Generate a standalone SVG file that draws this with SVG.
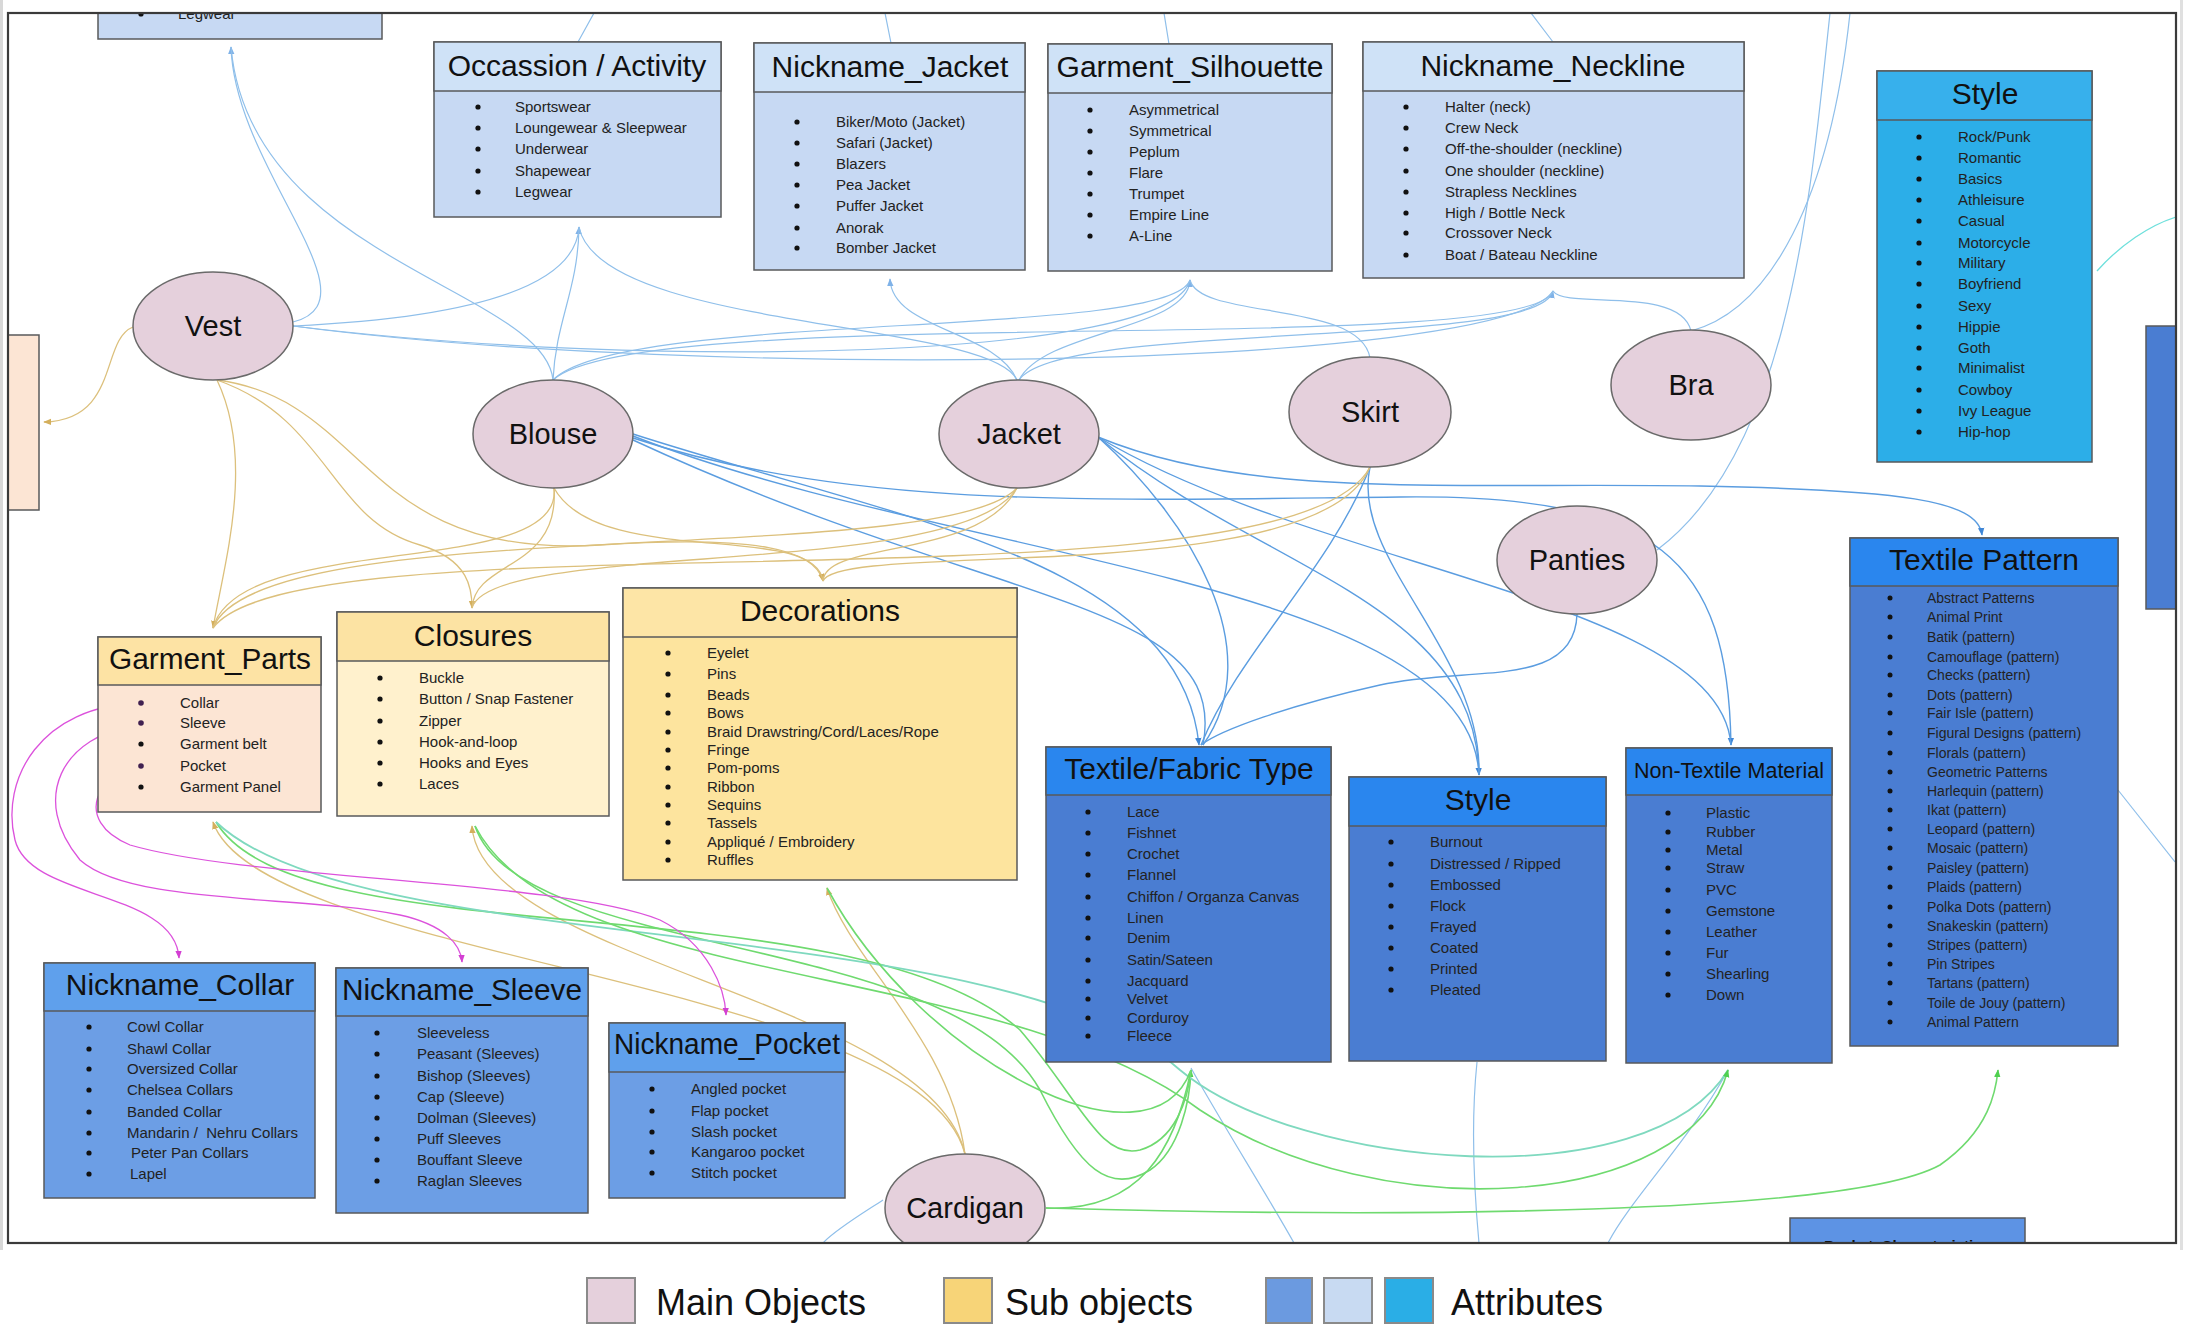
<svg xmlns="http://www.w3.org/2000/svg" width="2188" height="1336" viewBox="0 0 2188 1336">
<style>
.f{font-family:"Liberation Sans",Arial,Helvetica,sans-serif;fill:#111}
.ti{font-size:30px;text-anchor:middle}
.it{font-size:15px;fill:#222}
.it14{font-size:14px;fill:#222}
.lg{font-size:36px;fill:#111}
.eo{font-size:29px;text-anchor:middle}
.bx{stroke:#58595b;stroke-width:1.5}
.el{fill:#e5d0dc;stroke:#6a6a6a;stroke-width:1.5}
.bu{fill:#111}
.c{fill:none}
.cb{stroke:#8fbfea;stroke-width:1.2}
.cd{stroke:#5b9de0;stroke-width:1.4}
.ct{stroke:#dcc07c;stroke-width:1.3}
.cg{stroke:#6fda6f;stroke-width:1.6}
.cq{stroke:#7fd9bf;stroke-width:1.8}
.cp{stroke:#dc52dc;stroke-width:1.3}
.lb1{fill:#cfe2f7}.lb2{fill:#c7d9f3}
.cy1{fill:#37b0ec}.cy2{fill:#2caee8}
.db1{fill:#2a86ee}.db2{fill:#4a7dd2}
.nb1{fill:#5fa0ec}.nb2{fill:#6c9ee5}
</style>
<defs>
<clipPath id="frm"><rect x="9" y="14" width="2166" height="1228"/></clipPath>
<marker id="mb" viewBox="0 0 10 10" refX="9" refY="5" markerWidth="8" markerHeight="8" markerUnits="userSpaceOnUse" orient="auto"><path d="M0,1 L10,5 L0,9 z" fill="#7fb2e8"/></marker>
<marker id="md" viewBox="0 0 10 10" refX="9" refY="5" markerWidth="8" markerHeight="8" markerUnits="userSpaceOnUse" orient="auto"><path d="M0,1 L10,5 L0,9 z" fill="#3f86d6"/></marker>
<marker id="mt" viewBox="0 0 10 10" refX="9" refY="5" markerWidth="8" markerHeight="8" markerUnits="userSpaceOnUse" orient="auto"><path d="M0,1 L10,5 L0,9 z" fill="#d4af5c"/></marker>
<marker id="mg" viewBox="0 0 10 10" refX="9" refY="5" markerWidth="8" markerHeight="8" markerUnits="userSpaceOnUse" orient="auto"><path d="M0,1 L10,5 L0,9 z" fill="#4fd04f"/></marker>
<marker id="mp" viewBox="0 0 10 10" refX="9" refY="5" markerWidth="8" markerHeight="8" markerUnits="userSpaceOnUse" orient="auto"><path d="M0,1 L10,5 L0,9 z" fill="#d33fd3"/></marker>
</defs>
<rect x="0" y="0" width="2188" height="1336" fill="#fff"/>
<rect x="0" y="0" width="3" height="1250" fill="#d8d8d8"/>
<rect x="2180" y="0" width="3" height="1250" fill="#e0e0e0"/>

<g clip-path="url(#frm)">
<g id="connectors">
<path class="c cb" marker-end="url(#mb)" d="M293,322 C380,300 235,170 231,47"/>
<path class="c cb" d="M553,380 C545,290 250,260 231,47"/>
<path class="c cb" marker-end="url(#mb)" d="M293,326 C420,320 575,300 579,227"/>
<path class="c cb" d="M553,380 C556,320 578,290 579,227"/>
<path class="c cb" d="M1017,380 C990,320 600,330 579,227"/>
<path class="c cb" marker-end="url(#mb)" d="M1017,380 C995,330 892,330 890,279"/>
<path class="c cb" marker-end="url(#mb)" d="M1019,380 C1045,330 1188,330 1190,280"/>
<path class="c cb" marker-end="url(#mb)" d="M1019,380 C1060,320 1540,350 1553,291"/>
<path class="c cb" d="M553,380 C620,310 1170,340 1190,280"/>
<path class="c cb" d="M553,380 C640,300 1530,360 1553,291"/>
<path class="c cb" d="M293,326 C700,380 1500,370 1553,291"/>
<path class="c cb" d="M293,326 C650,370 1170,360 1190,280"/>
<path class="c cb" d="M1370,358 C1360,300 1200,320 1190,280"/>
<path class="c cb" d="M1691,331 C1680,285 1565,310 1553,291"/>
<path class="c cb" d="M1657,550 C1790,450 1810,200 1830,13"/>
<path class="c cb" d="M1691,331 C1770,310 1830,200 1850,13"/>
<path class="c cb" d="M594,13 L578,42 M885,13 L891,43 M1164,13 L1169,44 M1531,13 L1553,42"/>
<path class="c cb" d="M2118,790 L2175,862"/>
<path class="c" stroke="#6fe0dc" stroke-width="1.3" d="M2097,271 C2120,245 2150,225 2176,217"/>
<path class="c cb" d="M1191,1068 C1220,1120 1270,1200 1294,1243 M1477,1062 C1470,1130 1475,1200 1479,1243 M1728,1070 C1690,1140 1630,1200 1608,1243 M883,1200 C860,1215 835,1230 823,1243"/>
<path class="c cd" marker-end="url(#md)" d="M633,434 C900,520 1180,560 1199,745"/>
<path class="c cd" marker-end="url(#md)" d="M633,436 C950,560 1470,580 1479,775"/>
<path class="c cd" marker-end="url(#md)" d="M633,438 C850,510 1100,500 1400,497 C1660,494 1728,560 1731,745"/>
<path class="c cd" d="M633,440 C1000,610 1230,600 1203,745"/>
<path class="c cd" marker-end="url(#md)" d="M1098,437 C1250,500 1450,482 1700,486 C1900,490 1978,500 1982,535"/>
<path class="c cd" d="M1098,437 C1190,520 1270,650 1203,745"/>
<path class="c cd" d="M1098,437 C1260,570 1475,600 1479,775"/>
<path class="c cd" d="M1098,437 C1320,570 1720,600 1731,745"/>
<path class="c cd" d="M1370,467 C1330,570 1240,650 1201,745"/>
<path class="c cd" d="M1370,467 C1350,560 1482,650 1479,775"/>
<path class="c cd" d="M1577,614 C1575,690 1470,665 1380,685 C1290,705 1220,730 1201,745"/>
<path class="c ct" marker-end="url(#mt)" d="M217,380 C255,460 225,560 213,628"/>
<path class="c ct" marker-end="url(#mt)" d="M217,380 C330,420 330,520 420,545 C470,560 472,590 472,608"/>
<path class="c ct" marker-end="url(#mt)" d="M217,380 C370,400 360,560 600,545 C760,535 815,550 823,581"/>
<path class="c ct" d="M554,488 C565,580 240,530 213,628"/>
<path class="c ct" d="M554,488 C560,570 475,560 472,608"/>
<path class="c ct" d="M554,488 C600,570 815,520 823,581"/>
<path class="c ct" d="M1017,488 C940,570 260,510 213,628"/>
<path class="c ct" d="M1017,488 C960,580 490,540 472,608"/>
<path class="c ct" d="M1017,488 C980,560 825,540 823,581"/>
<path class="c ct" d="M1370,467 C1290,620 300,510 213,628"/>
<path class="c ct" d="M1370,467 C1320,590 840,540 823,581"/>
<path class="c ct" marker-end="url(#mt)" d="M133,327 C100,340 120,420 44,422"/>
<path class="c ct" marker-end="url(#mt)" d="M965,1154 C920,980 260,960 213,822"/>
<path class="c ct" marker-end="url(#mt)" d="M965,1154 C930,1000 480,960 472,826"/>
<path class="c ct" marker-end="url(#mt)" d="M965,1154 C950,1040 850,960 827,888"/>
<path class="c cg" marker-end="url(#mg)" d="M216,822 C300,960 850,880 1020,1030 C1080,1100 1100,1160 1140,1150 C1175,1140 1188,1100 1191,1070"/>
<path class="c cg" d="M475,826 C520,960 950,930 1040,1090 C1080,1170 1110,1195 1150,1170 C1180,1150 1190,1100 1191,1070"/>
<path class="c cq" d="M216,822 C360,960 1000,910 1180,1070 C1300,1170 1650,1200 1728,1070"/>
<path class="c cg" marker-end="url(#mg)" d="M475,826 C560,990 1000,960 1200,1110 C1380,1230 1690,1210 1728,1070"/>
<path class="c cg" marker-end="url(#mg)" d="M1046,1208 C1400,1218 1850,1215 1940,1165 C1990,1130 1996,1090 1998,1070"/>
<path class="c cg" d="M1046,1208 C1140,1212 1175,1150 1191,1070"/>
<path class="c cg" d="M827,888 C920,1060 1150,1180 1191,1070"/>
<path class="c cp" marker-end="url(#mp)" d="M141,703 C40,705 0,780 15,840 C30,900 175,890 179,958"/>
<path class="c cp" marker-end="url(#mp)" d="M141,724 C60,735 30,800 80,860 C130,905 300,895 400,915 C445,925 461,945 462,962"/>
<path class="c cp" marker-end="url(#mp)" d="M141,766 C100,770 70,820 130,845 C250,880 560,880 660,920 C710,945 725,990 726,1015"/>
</g>

<g id="node-legwear-partial">
<rect class="bx lb2" x="98" y="-10" width="284" height="49"/>
<circle class="bu" cx="141" cy="14" r="2.6"/>
<text class="f it" x="178" y="19">Legwear</text>
</g>

<g id="node-left-partial">
<rect class="bx" fill="#fce5d4" x="-5" y="335" width="44" height="175"/>
</g>

<g id="node-right-partial">
<rect class="bx db2" x="2146" y="326" width="40" height="283"/>
</g>

<g id="node-occasion">
<rect class="bx lb2" x="434" y="42" width="287" height="175"/>
<rect class="bx lb1" x="434" y="42" width="287" height="49"/>
<text class="f ti" x="577" y="76">Occassion / Activity</text>
<g class="bu"><circle cx="478" cy="107" r="2.6"/><circle cx="478" cy="128" r="2.6"/><circle cx="478" cy="149" r="2.6"/><circle cx="478" cy="171" r="2.6"/><circle cx="478" cy="192" r="2.6"/></g>
<text class="f it"><tspan x="515" y="112">Sportswear</tspan><tspan x="515" y="133">Loungewear &amp; Sleepwear</tspan><tspan x="515" y="154">Underwear</tspan><tspan x="515" y="176">Shapewear</tspan><tspan x="515" y="197">Legwear</tspan></text>
</g>

<g id="node-nickname-jacket">
<rect class="bx lb2" x="754" y="43" width="271" height="227"/>
<rect class="bx lb1" x="754" y="43" width="271" height="49"/>
<text class="f ti" x="890" y="77">Nickname_Jacket</text>
<g class="bu"><circle cx="797" cy="122" r="2.6"/><circle cx="797" cy="143" r="2.6"/><circle cx="797" cy="164" r="2.6"/><circle cx="797" cy="185" r="2.6"/><circle cx="797" cy="206" r="2.6"/><circle cx="797" cy="228" r="2.6"/><circle cx="797" cy="248" r="2.6"/></g>
<text class="f it"><tspan x="836" y="127">Biker/Moto (Jacket)</tspan><tspan x="836" y="148">Safari (Jacket)</tspan><tspan x="836" y="169">Blazers</tspan><tspan x="836" y="190">Pea Jacket</tspan><tspan x="836" y="211">Puffer Jacket</tspan><tspan x="836" y="233">Anorak</tspan><tspan x="836" y="253">Bomber Jacket</tspan></text>
</g>

<g id="node-silhouette">
<rect class="bx lb2" x="1048" y="44" width="284" height="227"/>
<rect class="bx lb1" x="1048" y="44" width="284" height="49"/>
<text class="f ti" x="1190" y="77">Garment_Silhouette</text>
<g class="bu"><circle cx="1090" cy="110" r="2.6"/><circle cx="1090" cy="131" r="2.6"/><circle cx="1090" cy="152" r="2.6"/><circle cx="1090" cy="173" r="2.6"/><circle cx="1090" cy="194" r="2.6"/><circle cx="1090" cy="215" r="2.6"/><circle cx="1090" cy="236" r="2.6"/></g>
<text class="f it"><tspan x="1129" y="115">Asymmetrical</tspan><tspan x="1129" y="136">Symmetrical</tspan><tspan x="1129" y="157">Peplum</tspan><tspan x="1129" y="178">Flare</tspan><tspan x="1129" y="199">Trumpet</tspan><tspan x="1129" y="220">Empire Line</tspan><tspan x="1129" y="241">A-Line</tspan></text>
</g>

<g id="node-neckline">
<rect class="bx lb2" x="1363" y="42" width="381" height="236"/>
<rect class="bx lb1" x="1363" y="42" width="381" height="49"/>
<text class="f ti" x="1553" y="76">Nickname_Neckline</text>
<g class="bu"><circle cx="1406" cy="107" r="2.6"/><circle cx="1406" cy="128" r="2.6"/><circle cx="1406" cy="149" r="2.6"/><circle cx="1406" cy="171" r="2.6"/><circle cx="1406" cy="192" r="2.6"/><circle cx="1406" cy="213" r="2.6"/><circle cx="1406" cy="233" r="2.6"/><circle cx="1406" cy="255" r="2.6"/></g>
<text class="f it"><tspan x="1445" y="112">Halter (neck)</tspan><tspan x="1445" y="133">Crew Neck</tspan><tspan x="1445" y="154">Off-the-shoulder (neckline)</tspan><tspan x="1445" y="176">One shoulder (neckline)</tspan><tspan x="1445" y="197">Strapless Necklines</tspan><tspan x="1445" y="218">High / Bottle Neck</tspan><tspan x="1445" y="238">Crossover Neck</tspan><tspan x="1445" y="260">Boat / Bateau Neckline</tspan></text>
</g>

<g id="node-style-top">
<rect class="bx cy2" x="1877" y="71" width="215" height="391"/>
<rect class="bx cy1" x="1877" y="71" width="215" height="49"/>
<text class="f ti" x="1985" y="104">Style</text>
<g class="bu"><circle cx="1919" cy="137" r="2.6"/><circle cx="1919" cy="158" r="2.6"/><circle cx="1919" cy="179" r="2.6"/><circle cx="1919" cy="200" r="2.6"/><circle cx="1919" cy="221" r="2.6"/><circle cx="1919" cy="243" r="2.6"/><circle cx="1919" cy="263" r="2.6"/><circle cx="1919" cy="284" r="2.6"/><circle cx="1919" cy="306" r="2.6"/><circle cx="1919" cy="327" r="2.6"/><circle cx="1919" cy="348" r="2.6"/><circle cx="1919" cy="368" r="2.6"/><circle cx="1919" cy="390" r="2.6"/><circle cx="1919" cy="411" r="2.6"/><circle cx="1919" cy="432" r="2.6"/></g>
<text class="f it"><tspan x="1958" y="142">Rock/Punk</tspan><tspan x="1958" y="163">Romantic</tspan><tspan x="1958" y="184">Basics</tspan><tspan x="1958" y="205">Athleisure</tspan><tspan x="1958" y="226">Casual</tspan><tspan x="1958" y="248">Motorcycle</tspan><tspan x="1958" y="268">Military</tspan><tspan x="1958" y="289">Boyfriend</tspan><tspan x="1958" y="311">Sexy</tspan><tspan x="1958" y="332">Hippie</tspan><tspan x="1958" y="353">Goth</tspan><tspan x="1958" y="373">Minimalist</tspan><tspan x="1958" y="395">Cowboy</tspan><tspan x="1958" y="416">Ivy League</tspan><tspan x="1958" y="437">Hip-hop</tspan></text>
</g>

<g id="node-garment-parts">
<rect class="bx" fill="#fce5d4" x="98" y="637" width="223" height="175"/>
<rect class="bx" fill="#fde3a4" x="98" y="637" width="223" height="48"/>
<text class="f ti" x="210" y="669" textLength="202" lengthAdjust="spacingAndGlyphs">Garment_Parts</text>
<g class="bu"><circle cx="141" cy="703" r="2.8" fill="#402050"/><circle cx="141" cy="723" r="2.8" fill="#402050"/><circle cx="141" cy="744" r="2.6"/><circle cx="141" cy="766" r="2.8" fill="#402050"/><circle cx="141" cy="787" r="2.6"/></g>
<text class="f it"><tspan x="180" y="708">Collar</tspan><tspan x="180" y="728">Sleeve</tspan><tspan x="180" y="749">Garment belt</tspan><tspan x="180" y="771">Pocket</tspan><tspan x="180" y="792">Garment Panel</tspan></text>
</g>

<g id="node-closures">
<rect class="bx" fill="#fff1cd" x="337" y="612" width="272" height="204"/>
<rect class="bx" fill="#fce3a3" x="337" y="612" width="272" height="49"/>
<text class="f ti" x="473" y="646">Closures</text>
<g class="bu"><circle cx="380" cy="678" r="2.6"/><circle cx="380" cy="699" r="2.6"/><circle cx="380" cy="721" r="2.6"/><circle cx="380" cy="742" r="2.6"/><circle cx="380" cy="763" r="2.6"/><circle cx="380" cy="784" r="2.6"/></g>
<text class="f it"><tspan x="419" y="683">Buckle</tspan><tspan x="419" y="704">Button / Snap Fastener</tspan><tspan x="419" y="726">Zipper</tspan><tspan x="419" y="747">Hook-and-loop</tspan><tspan x="419" y="768">Hooks and Eyes</tspan><tspan x="419" y="789">Laces</tspan></text>
</g>

<g id="node-decorations">
<rect class="bx" fill="#fde49e" x="623" y="588" width="394" height="292"/>
<rect class="bx" fill="#fde5a6" x="623" y="588" width="394" height="49"/>
<text class="f ti" x="820" y="621">Decorations</text>
<g class="bu"><circle cx="668" cy="653" r="2.6"/><circle cx="668" cy="674" r="2.6"/><circle cx="668" cy="695" r="2.6"/><circle cx="668" cy="713" r="2.6"/><circle cx="668" cy="732" r="2.6"/><circle cx="668" cy="750" r="2.6"/><circle cx="668" cy="768" r="2.6"/><circle cx="668" cy="787" r="2.6"/><circle cx="668" cy="805" r="2.6"/><circle cx="668" cy="823" r="2.6"/><circle cx="668" cy="842" r="2.6"/><circle cx="668" cy="860" r="2.6"/></g>
<text class="f it"><tspan x="707" y="658">Eyelet</tspan><tspan x="707" y="679">Pins</tspan><tspan x="707" y="700">Beads</tspan><tspan x="707" y="718">Bows</tspan><tspan x="707" y="737">Braid Drawstring/Cord/Laces/Rope</tspan><tspan x="707" y="755">Fringe</tspan><tspan x="707" y="773">Pom-poms</tspan><tspan x="707" y="792">Ribbon</tspan><tspan x="707" y="810">Sequins</tspan><tspan x="707" y="828">Tassels</tspan><tspan x="707" y="847">Appliqué / Embroidery</tspan><tspan x="707" y="865">Ruffles</tspan></text>
</g>

<g id="node-textile-fabric">
<rect class="bx db2" x="1046" y="747" width="285" height="315" stroke="#333"/>
<rect class="bx db1" x="1046" y="747" width="285" height="48" stroke="#333"/>
<text class="f ti" x="1189" y="779">Textile/Fabric Type</text>
<g class="bu"><circle cx="1088" cy="812" r="2.6"/><circle cx="1088" cy="833" r="2.6"/><circle cx="1088" cy="854" r="2.6"/><circle cx="1088" cy="875" r="2.6"/><circle cx="1088" cy="897" r="2.6"/><circle cx="1088" cy="918" r="2.6"/><circle cx="1088" cy="938" r="2.6"/><circle cx="1088" cy="960" r="2.6"/><circle cx="1088" cy="981" r="2.6"/><circle cx="1088" cy="999" r="2.6"/><circle cx="1088" cy="1018" r="2.6"/><circle cx="1088" cy="1036" r="2.6"/></g>
<text class="f it"><tspan x="1127" y="817">Lace</tspan><tspan x="1127" y="838">Fishnet</tspan><tspan x="1127" y="859">Crochet</tspan><tspan x="1127" y="880">Flannel</tspan><tspan x="1127" y="902">Chiffon / Organza Canvas</tspan><tspan x="1127" y="923">Linen</tspan><tspan x="1127" y="943">Denim</tspan><tspan x="1127" y="965">Satin/Sateen</tspan><tspan x="1127" y="986">Jacquard</tspan><tspan x="1127" y="1004">Velvet</tspan><tspan x="1127" y="1023">Corduroy</tspan><tspan x="1127" y="1041">Fleece</tspan></text>
</g>

<g id="node-style-mid">
<rect class="bx db2" x="1349" y="777" width="257" height="284" stroke="#333"/>
<rect class="bx db1" x="1349" y="777" width="257" height="49" stroke="#333"/>
<text class="f ti" x="1478" y="810">Style</text>
<g class="bu"><circle cx="1391" cy="842" r="2.6"/><circle cx="1391" cy="864" r="2.6"/><circle cx="1391" cy="885" r="2.6"/><circle cx="1391" cy="906" r="2.6"/><circle cx="1391" cy="927" r="2.6"/><circle cx="1391" cy="948" r="2.6"/><circle cx="1391" cy="969" r="2.6"/><circle cx="1391" cy="990" r="2.6"/></g>
<text class="f it"><tspan x="1430" y="847">Burnout</tspan><tspan x="1430" y="869">Distressed / Ripped</tspan><tspan x="1430" y="890">Embossed</tspan><tspan x="1430" y="911">Flock</tspan><tspan x="1430" y="932">Frayed</tspan><tspan x="1430" y="953">Coated</tspan><tspan x="1430" y="974">Printed</tspan><tspan x="1430" y="995">Pleated</tspan></text>
</g>

<g id="node-non-textile">
<rect class="bx db2" x="1626" y="748" width="206" height="315" stroke="#333"/>
<rect class="bx db1" x="1626" y="748" width="206" height="47" stroke="#333"/>
<text class="f" x="1729" y="778" font-size="21.5" text-anchor="middle">Non-Textile Material</text>
<g class="bu"><circle cx="1668" cy="813" r="2.6"/><circle cx="1668" cy="832" r="2.6"/><circle cx="1668" cy="850" r="2.6"/><circle cx="1668" cy="868" r="2.6"/><circle cx="1668" cy="890" r="2.6"/><circle cx="1668" cy="911" r="2.6"/><circle cx="1668" cy="932" r="2.6"/><circle cx="1668" cy="953" r="2.6"/><circle cx="1668" cy="974" r="2.6"/><circle cx="1668" cy="995" r="2.6"/></g>
<text class="f it"><tspan x="1706" y="818">Plastic</tspan><tspan x="1706" y="837">Rubber</tspan><tspan x="1706" y="855">Metal</tspan><tspan x="1706" y="873">Straw</tspan><tspan x="1706" y="895">PVC</tspan><tspan x="1706" y="916">Gemstone</tspan><tspan x="1706" y="937">Leather</tspan><tspan x="1706" y="958">Fur</tspan><tspan x="1706" y="979">Shearling</tspan><tspan x="1706" y="1000">Down</tspan></text>
</g>

<g id="node-textile-pattern">
<rect class="bx db2" x="1850" y="538" width="268" height="508" stroke="#333"/>
<rect class="bx db1" x="1850" y="538" width="268" height="48" stroke="#333"/>
<text class="f ti" x="1984" y="570">Textile Pattern</text>
<g class="bu"><circle cx="1890" cy="598" r="2.5"/><circle cx="1890" cy="617" r="2.5"/><circle cx="1890" cy="637" r="2.5"/><circle cx="1890" cy="657" r="2.5"/><circle cx="1890" cy="675" r="2.5"/><circle cx="1890" cy="695" r="2.5"/><circle cx="1890" cy="713" r="2.5"/><circle cx="1890" cy="733" r="2.5"/><circle cx="1890" cy="753" r="2.5"/><circle cx="1890" cy="772" r="2.5"/><circle cx="1890" cy="791" r="2.5"/><circle cx="1890" cy="810" r="2.5"/><circle cx="1890" cy="829" r="2.5"/><circle cx="1890" cy="848" r="2.5"/><circle cx="1890" cy="868" r="2.5"/><circle cx="1890" cy="887" r="2.5"/><circle cx="1890" cy="907" r="2.5"/><circle cx="1890" cy="926" r="2.5"/><circle cx="1890" cy="945" r="2.5"/><circle cx="1890" cy="964" r="2.5"/><circle cx="1890" cy="983" r="2.5"/><circle cx="1890" cy="1003" r="2.5"/><circle cx="1890" cy="1022" r="2.5"/></g>
<text class="f it14"><tspan x="1927" y="603">Abstract Patterns</tspan><tspan x="1927" y="622">Animal Print</tspan><tspan x="1927" y="642">Batik (pattern)</tspan><tspan x="1927" y="662">Camouflage (pattern)</tspan><tspan x="1927" y="680">Checks (pattern)</tspan><tspan x="1927" y="700">Dots (pattern)</tspan><tspan x="1927" y="718">Fair Isle (pattern)</tspan><tspan x="1927" y="738">Figural Designs (pattern)</tspan><tspan x="1927" y="758">Florals (pattern)</tspan><tspan x="1927" y="777">Geometric Patterns</tspan><tspan x="1927" y="796">Harlequin (pattern)</tspan><tspan x="1927" y="815">Ikat (pattern)</tspan><tspan x="1927" y="834">Leopard (pattern)</tspan><tspan x="1927" y="853">Mosaic (pattern)</tspan><tspan x="1927" y="873">Paisley (pattern)</tspan><tspan x="1927" y="892">Plaids (pattern)</tspan><tspan x="1927" y="912">Polka Dots (pattern)</tspan><tspan x="1927" y="931">Snakeskin (pattern)</tspan><tspan x="1927" y="950">Stripes (pattern)</tspan><tspan x="1927" y="969">Pin Stripes</tspan><tspan x="1927" y="988">Tartans (pattern)</tspan><tspan x="1927" y="1008">Toile de Jouy (pattern)</tspan><tspan x="1927" y="1027">Animal Pattern</tspan></text>
</g>

<g id="node-nickname-collar">
<rect class="bx nb2" x="44" y="963" width="271" height="235" stroke="#333"/>
<rect class="bx nb1" x="44" y="963" width="271" height="48" stroke="#333"/>
<text class="f ti" x="180" y="995">Nickname_Collar</text>
<g class="bu"><circle cx="89" cy="1027" r="2.6"/><circle cx="89" cy="1049" r="2.6"/><circle cx="89" cy="1069" r="2.6"/><circle cx="89" cy="1090" r="2.6"/><circle cx="89" cy="1112" r="2.6"/><circle cx="89" cy="1133" r="2.6"/><circle cx="89" cy="1153" r="2.6"/><circle cx="89" cy="1174" r="2.6"/></g>
<text class="f it"><tspan x="127" y="1032">Cowl Collar</tspan><tspan x="127" y="1054">Shawl Collar</tspan><tspan x="127" y="1074">Oversized Collar</tspan><tspan x="127" y="1095">Chelsea Collars</tspan><tspan x="127" y="1117">Banded Collar</tspan><tspan x="127" y="1138" xml:space="preserve">Mandarin /  Nehru Collars</tspan><tspan x="131" y="1158">Peter Pan Collars</tspan><tspan x="130" y="1179">Lapel</tspan></text>
</g>

<g id="node-nickname-sleeve">
<rect class="bx nb2" x="336" y="968" width="252" height="245" stroke="#333"/>
<rect class="bx nb1" x="336" y="968" width="252" height="48" stroke="#333"/>
<text class="f ti" x="462" y="1000" textLength="240" lengthAdjust="spacingAndGlyphs">Nickname_Sleeve</text>
<g class="bu"><circle cx="377" cy="1033" r="2.6"/><circle cx="377" cy="1054" r="2.6"/><circle cx="377" cy="1076" r="2.6"/><circle cx="377" cy="1097" r="2.6"/><circle cx="377" cy="1118" r="2.6"/><circle cx="377" cy="1139" r="2.6"/><circle cx="377" cy="1160" r="2.6"/><circle cx="377" cy="1181" r="2.6"/></g>
<text class="f it"><tspan x="417" y="1038">Sleeveless</tspan><tspan x="417" y="1059">Peasant (Sleeves)</tspan><tspan x="417" y="1081">Bishop (Sleeves)</tspan><tspan x="417" y="1102">Cap (Sleeve)</tspan><tspan x="417" y="1123">Dolman (Sleeves)</tspan><tspan x="417" y="1144">Puff Sleeves</tspan><tspan x="417" y="1165">Bouffant Sleeve</tspan><tspan x="417" y="1186">Raglan Sleeves</tspan></text>
</g>

<g id="node-nickname-pocket">
<rect class="bx nb2" x="609" y="1023" width="236" height="175" stroke="#333"/>
<rect class="bx nb1" x="609" y="1023" width="236" height="49" stroke="#333"/>
<text class="f ti" x="727" y="1054" textLength="226" lengthAdjust="spacingAndGlyphs">Nickname_Pocket</text>
<g class="bu"><circle cx="652" cy="1089" r="2.6"/><circle cx="652" cy="1111" r="2.6"/><circle cx="652" cy="1132" r="2.6"/><circle cx="652" cy="1152" r="2.6"/><circle cx="652" cy="1173" r="2.6"/></g>
<text class="f it"><tspan x="691" y="1094">Angled pocket</tspan><tspan x="691" y="1116">Flap pocket</tspan><tspan x="691" y="1137">Slash pocket</tspan><tspan x="691" y="1157">Kangaroo pocket</tspan><tspan x="691" y="1178">Stitch pocket</tspan></text>
</g>

<g id="node-pocket-characteristics">
<rect class="bx" fill="#5d93e4" x="1790" y="1218" width="235" height="60" stroke="#333"/>
<text class="f" x="1907" y="1251" font-size="15" font-weight="bold" text-anchor="middle">Pocket_Characteristics</text>
</g>

<g id="node-vest"><ellipse class="el" cx="213" cy="326" rx="80" ry="54"/><text class="f eo" x="213" y="336">Vest</text></g>
<g id="node-blouse"><ellipse class="el" cx="553" cy="434" rx="80" ry="54"/><text class="f eo" x="553" y="444">Blouse</text></g>
<g id="node-jacket"><ellipse class="el" cx="1019" cy="434" rx="80" ry="54"/><text class="f eo" x="1019" y="444">Jacket</text></g>
<g id="node-skirt"><ellipse class="el" cx="1370" cy="412" rx="81" ry="55"/><text class="f eo" x="1370" y="422">Skirt</text></g>
<g id="node-bra"><ellipse class="el" cx="1691" cy="385" rx="80" ry="55"/><text class="f eo" x="1691" y="395">Bra</text></g>
<g id="node-panties"><ellipse class="el" cx="1577" cy="560" rx="80" ry="54"/><text class="f eo" x="1577" y="570">Panties</text></g>
<g id="node-cardigan"><ellipse class="el" cx="965" cy="1208" rx="80" ry="54"/><text class="f eo" x="965" y="1218">Cardigan</text></g>
</g>

<rect x="8" y="13" width="2168" height="1230" fill="none" stroke="#3a3a3a" stroke-width="2.2"/>

<g id="legend">
<rect x="587" y="1278" width="48" height="45" fill="#e5d0dc" stroke="#8a8a8a" stroke-width="2"/>
<text class="f lg" x="656" y="1315">Main Objects</text>
<rect x="944" y="1278" width="48" height="45" fill="#f7d478" stroke="#8a8a8a" stroke-width="2"/>
<text class="f lg" x="1005" y="1315">Sub objects</text>
<rect x="1266" y="1278" width="46" height="45" fill="#6b9ae0" stroke="#8a8a8a" stroke-width="2"/>
<rect x="1324" y="1278" width="48" height="45" fill="#c8daf2" stroke="#8a8a8a" stroke-width="2"/>
<rect x="1385" y="1278" width="48" height="45" fill="#2aaee6" stroke="#8a8a8a" stroke-width="2"/>
<text class="f lg" x="1451" y="1315">Attributes</text>
</g>
</svg>
